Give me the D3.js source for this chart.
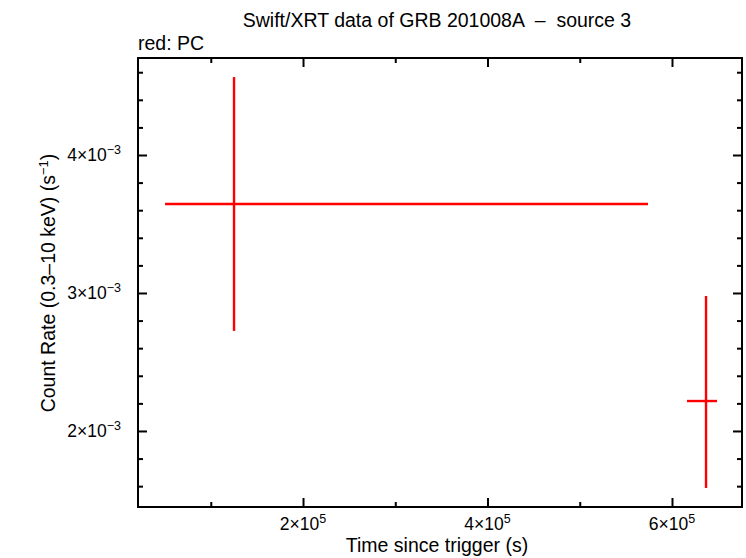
<!DOCTYPE html>
<html><head><meta charset="utf-8">
<script src="https://cdn.jsdelivr.net/npm/d3@7"></script>
<style>body{margin:0;background:#fff}svg{display:block}text{font-family:"Liberation Sans",Arial,sans-serif}</style>
</head><body><svg id="c" width="746" height="558"></svg>
<script>
const times=[125200,636900];
const tLo=[50400,616300];
const tHi=[574000,648800];
const rates=[3.645e-3,2.217e-3];
const rLo=[2.725e-3,1.587e-3];
const rHi=[4.565e-3,2.978e-3];
const xMajor=[2e5,4e5,6e5];
const xMinor=[1e5,3e5,5e5];
const yMajor=[2e-3,3e-3,4e-3];
const yMinor=[1.6e-3,1.8e-3,2.2e-3,2.4e-3,2.6e-3,2.8e-3,3.2e-3,3.4e-3,3.6e-3,3.8e-3,4.2e-3,4.4e-3,4.6e-3];
const xLabels=["2","4","6"], xExp="5";
const yLabels=["2","3","4"], yExp="−3";

const L=138,R=742,T=58,B=507;
const x=d3.scaleLinear().domain([21100,675900]).range([L,R]);
const y=d3.scaleLinear().domain([1.449e-3,4.703e-3]).range([B,T]);
const svg=d3.select("#c");

// error bars
const pts=times.map((t,i)=>({t,lo:tLo[i],hi:tHi[i],r:rates[i],rl:rLo[i],rh:rHi[i]}));
const g=svg.append("g").attr("stroke","#ff0000").attr("stroke-width",2.4);
g.selectAll(".h").data(pts).join("line").attr("x1",d=>x(d.lo)).attr("x2",d=>x(d.hi)).attr("y1",d=>y(d.r)).attr("y2",d=>y(d.r));
g.selectAll(".v").data(pts).join("line").attr("x1",d=>x(d.t)).attr("x2",d=>x(d.t)).attr("y1",d=>y(d.rl)).attr("y2",d=>y(d.rh));

// axes with inward ticks
function ax(gen,tr,vals,size){
  svg.append("g").attr("transform",tr).call(gen.tickValues(vals).tickSize(size).tickFormat(""))
   .call(s=>{s.select(".domain").remove();s.selectAll("line").attr("stroke","#000").attr("stroke-width",2);});
}
ax(d3.axisBottom(x),`translate(0,${B})`,xMajor,-9);
ax(d3.axisBottom(x),`translate(0,${B})`,xMinor,-5);
ax(d3.axisTop(x),`translate(0,${T})`,xMajor,-9);
ax(d3.axisTop(x),`translate(0,${T})`,xMinor,-5);
ax(d3.axisLeft(y),`translate(${L},0)`,yMajor,-9);
ax(d3.axisLeft(y),`translate(${L},0)`,yMinor,-5);
ax(d3.axisRight(y),`translate(${R},0)`,yMajor,-9);
ax(d3.axisRight(y),`translate(${R},0)`,yMinor,-5);

svg.append("rect").attr("x",L).attr("y",T).attr("width",R-L).attr("height",B-T)
  .attr("fill","none").attr("stroke","#000").attr("stroke-width",2);

// tick labels
xMajor.forEach((v,i)=>{
  const t=svg.append("text").attr("x",x(v)).attr("y",530).attr("text-anchor","middle").attr("font-size",17.5);
  t.append("tspan").text(xLabels[i]+"×10");
  t.append("tspan").attr("dy",-7).attr("font-size",12.5).text(xExp);
});
yMajor.forEach((v,i)=>{
  const t=svg.append("text").attr("x",121).attr("y",y(v)+6).attr("text-anchor","end").attr("font-size",17.5);
  t.append("tspan").text(yLabels[i]+"×10");
  t.append("tspan").attr("dy",-7).attr("font-size",12.5).text(yExp);
});

svg.append("text").attr("x",437).attr("y",27).attr("text-anchor","middle").attr("font-size",19.5).text("Swift/XRT data of GRB 201008A  –  source 3").attr("xml:space","preserve").style("white-space","pre");
svg.append("text").attr("x",138).attr("y",50).attr("font-size",19.5).text("red: PC");
svg.append("text").attr("x",437).attr("y",552).attr("text-anchor","middle").attr("font-size",19.5).text("Time since trigger (s)");
const yl=svg.append("text").attr("transform","translate(55,283) rotate(-90)").attr("text-anchor","middle").attr("font-size",19.5);
yl.append("tspan").text("Count Rate (0.3–10 keV) (s");
yl.append("tspan").attr("dy",-7).attr("font-size",13).text("−1");
yl.append("tspan").attr("dy",7).text(")");
</script></body></html>
